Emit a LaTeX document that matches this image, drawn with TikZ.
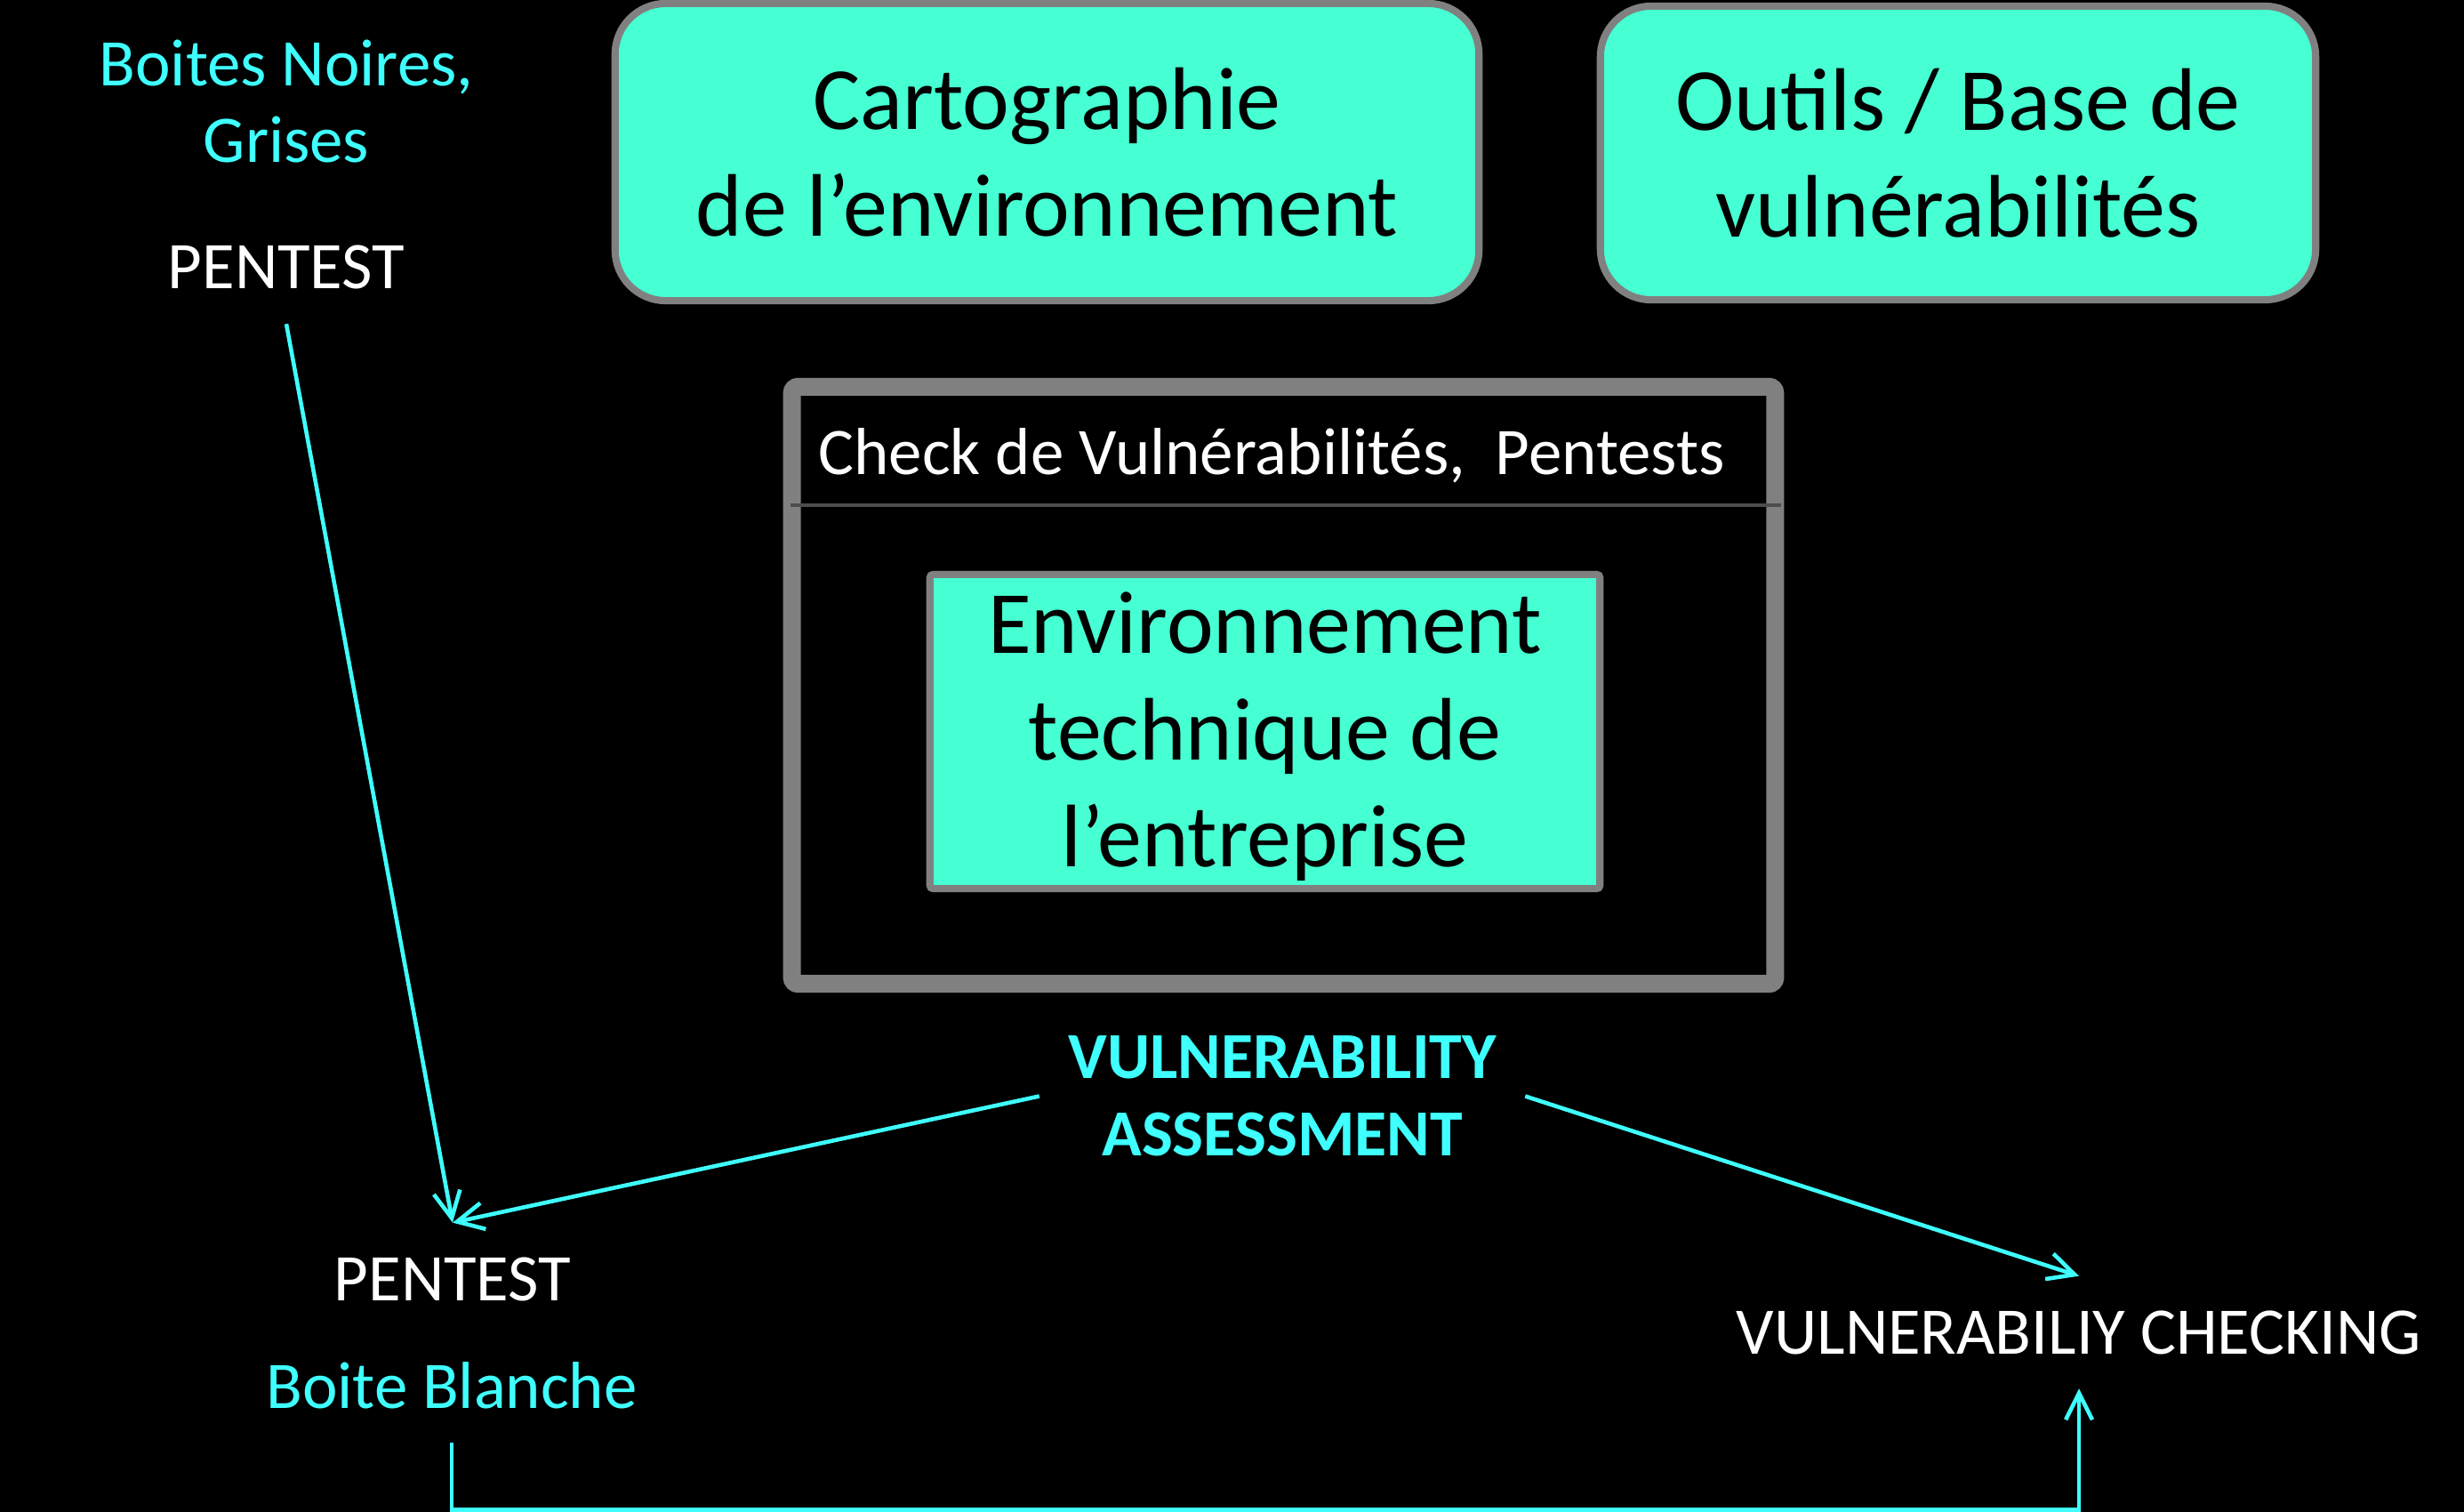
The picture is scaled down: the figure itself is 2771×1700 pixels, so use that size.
\documentclass[tikz,border=0pt]{standalone}
\usepackage{fontspec}
\setmainfont{Carlito}
\usepackage[HTML]{xcolor}
\usetikzlibrary{positioning, arrows.meta}

\definecolor{boxfill}{HTML}{46FFD3}
\definecolor{cyantxt}{HTML}{3FFFFF}
\definecolor{framegray}{HTML}{808080}
\definecolor{rulegray}{HTML}{4D4D4D}

\begin{document}
\begin{tikzpicture}[
    x=0.01cm, y=-0.01cm, % one unit is one pixel of the slide, y going down
    every node/.style={font=\fontsize{21.3}{24.7}\selectfont, text=white, inner sep=0.38cm},
    bigfont/.style={font=\fontsize{28.4}{34.1}\selectfont},
    tealbox/.style={draw=framegray, line width=2.3pt, fill=boxfill, text=black,
        inner sep=0pt, align=center, bigfont},
    flow/.style={draw=cyantxt, line width=1.3pt, -{Straight Barb[length=8.5pt,width=8.5pt]}}
]
    % Slide area
    \useasboundingbox (0,0) rectangle (2771,1700);
    \fill[black] (0,0) rectangle (2771,1700);

    % Top row: the two rounded boxes
    \node[tealbox, rounded corners=0.57cm, minimum width=9.71cm, minimum height=3.34cm]
        (Carto) at (1177.5,171) {Cartographie\\de l’environnement};
    \node[tealbox, rounded corners=0.57cm, minimum width=8.04cm, minimum height=3.30cm]
        (Outils) at (2202,172) {Outils / Base de\\vulnérabilités};

    % Big gray frame with its title strip
    \node[draw=framegray, line width=5.7pt, rounded corners=2pt, inner sep=0pt,
        minimum width=11.05cm, minimum height=6.71cm] (Frame) at (1443.5,770.5) {};
    \draw[rulegray, line width=1.4pt] (889,568) -- (2003,568);
    \node[anchor=base west, inner sep=0pt] (CheckTitle) at (920,533)
        {Check de Vulnérabilités,\ \ Pentests};

    % Inner box
    \node[tealbox, rounded corners=1pt, minimum width=7.53cm, minimum height=3.53cm]
        (Env) at (1422.5,822.5) {\rule{0pt}{23pt}Environnement\\technique de\\l’entreprise};

    % Labels
    \node[text=cyantxt, align=center, anchor=base] (BoitesNG) at (322,183) {Boites Noires,\\Grises};
    \node[anchor=base] (PentestTop) at (322,325) {PENTEST};
    \node[text=cyantxt, align=center, inner xsep=0.32cm,
        font={\fontsize{21}{24.7}\selectfont\bfseries}]
        (Assess) at (1442,1232.5) {VULNERABILITY\\ASSESSMENT};
    \node[anchor=base] (PentestBot) at (509,1462) {PENTEST};
    \node[text=cyantxt, anchor=base] (BoiteBlanche) at (508,1583) {Boite Blanche};
    \node[anchor=base] (VulnCheck) at (2338,1522) {VULNERABILIY CHECKING};

    % Connectors
    \draw[flow] (PentestTop.south) -- (PentestBot.north);
    \draw[flow] (Assess.west) -- (PentestBot.north);
    \draw[flow] (Assess.east) -- (VulnCheck.north);
    \draw[flow] (BoiteBlanche.south) -- ++(0,75) -| (VulnCheck.south);
\end{tikzpicture}
\end{document}
